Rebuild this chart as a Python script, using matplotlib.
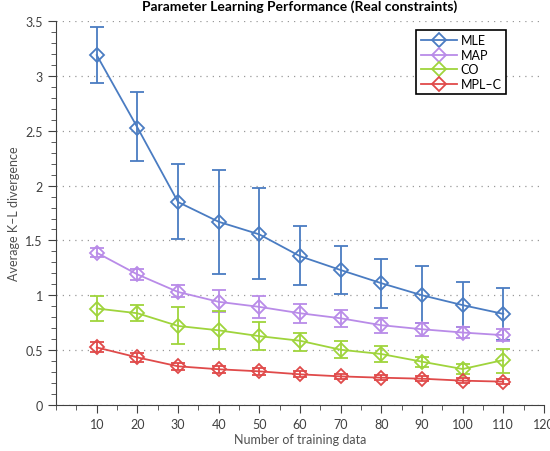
import matplotlib
matplotlib.use("Agg")
import matplotlib.pyplot as plt
from matplotlib.lines import Line2D
from matplotlib.ticker import MultipleLocator

# === Données ===
train_sizes = [10, 20, 30, 40, 50, 60, 70, 80, 90, 100, 110]

mle = [3.19, 2.53, 1.85, 1.67, 1.555, 1.356, 1.23, 1.11, 1.0, 0.91, 0.83]
mle_hi = [3.45, 2.85, 2.20, 2.14, 1.975, 1.63, 1.45, 1.334, 1.267, 1.12, 1.067]
mle_lo = [2.94, 2.22, 1.51, 1.19, 1.15, 1.09, 1.015, 0.88, 0.75, 0.71, 0.59]

map_ = [1.388, 1.19, 1.03, 0.94, 0.894, 0.836, 0.79, 0.727, 0.69, 0.66, 0.636]
map_hi = [1.43, 1.24, 1.09, 1.05, 0.99, 0.92, 0.87, 0.79, 0.745, 0.71, 0.69]
map_lo = [1.35, 1.136, 0.98, 0.85, 0.79, 0.745, 0.71, 0.66, 0.625, 0.61, 0.585]

co = [0.879, 0.836, 0.72, 0.68, 0.627, 0.585, 0.503, 0.464, 0.394, 0.327, 0.409]
co_hi = [0.99, 0.91, 0.894, 0.86, 0.757, 0.66, 0.58, 0.54, 0.436, 0.373, 0.51]
co_lo = [0.764, 0.764, 0.557, 0.51, 0.50, 0.494, 0.424, 0.388, 0.35, 0.282, 0.29]

mplc = [0.524, 0.433, 0.352, 0.325, 0.306, 0.279, 0.26, 0.248, 0.239, 0.221, 0.212]
mplc_hi = [0.57, 0.47, 0.385, 0.355, 0.335, 0.305, 0.285, 0.272, 0.262, 0.245, 0.236]
mplc_lo = [0.48, 0.395, 0.32, 0.295, 0.277, 0.253, 0.235, 0.224, 0.216, 0.197, 0.188]

series = [
    ("MLE", mle, mle_lo, mle_hi, "#4a7cc2"),
    ("MAP", map_, map_lo, map_hi, "#b98be8"),
    ("CO", co, co_lo, co_hi, "#9fd43c"),
    ("MPL\u2013C", mplc, mplc_lo, mplc_hi, "#e04a4a"),
]

plt.rcParams["font.family"] = ["Lato", "DejaVu Sans"]

fig = plt.figure(figsize=(5.5, 4.52), dpi=100)
ax = fig.add_axes([0.102, 0.102, 0.887, 0.849])

handles = []
for name, vals, lo, hi, col in series:
    yerr = [[v - l for v, l in zip(vals, lo)], [h - v for v, h in zip(vals, hi)]]
    ax.errorbar(train_sizes, vals, yerr=yerr, color=col, ecolor=col, lw=1.3,
                elinewidth=1.3, capsize=5, capthick=1.3, marker="D", ms=7,
                mfc="none", mec=col, mew=1.3)
    handles.append(Line2D([], [], color=col, lw=1.3, marker="D", ms=7,
                          mfc="none", mec=col, mew=1.3, label=name))

ax.set_xlim(0, 120)
ax.set_ylim(0, 3.5)
ax.xaxis.set_minor_locator(MultipleLocator(5))
ax.yaxis.set_minor_locator(MultipleLocator(0.1))
ax.set_xticks(train_sizes + [120])
ax.set_xticklabels([str(v) for v in train_sizes + [120]])
ax.set_yticks([0, 0.5, 1, 1.5, 2, 2.5, 3, 3.5])
ax.set_yticklabels(["0", "0.5", "1", "1.5", "2", "2.5", "3", "3.5"])

ax.spines["top"].set_visible(False)
ax.spines["right"].set_visible(False)
for s in ("left", "bottom"):
    ax.spines[s].set_color("#404040")
ax.tick_params(which="major", direction="out", length=6, color="#404040",
               labelsize=9, labelcolor="#404040")
ax.tick_params(which="minor", direction="out", length=3.5, color="#404040")

ax.yaxis.grid(True, which="major", linestyle=(0, (1, 4)), color="#999999", lw=0.9)
ax.set_axisbelow(True)

ax.set_xlabel("Number of training data", fontsize=9, color="#505050", labelpad=2)
ax.set_ylabel("Average K\u2013L divergence", fontsize=9, color="#505050", labelpad=4)
ax.set_title("Parameter Learning Performance (Real constraints)", fontsize=10,
             fontweight="bold", pad=8)

leg = ax.legend(handles=handles, loc="upper right", bbox_to_anchor=(0.935, 0.993),
                fontsize=9, fancybox=False, edgecolor="black", framealpha=1,
                handlelength=2.9, borderpad=0.35, labelspacing=0.2,
                handletextpad=0.3)
leg.get_frame().set_linewidth(1.2)

fig.savefig("out.png", dpi=100)
